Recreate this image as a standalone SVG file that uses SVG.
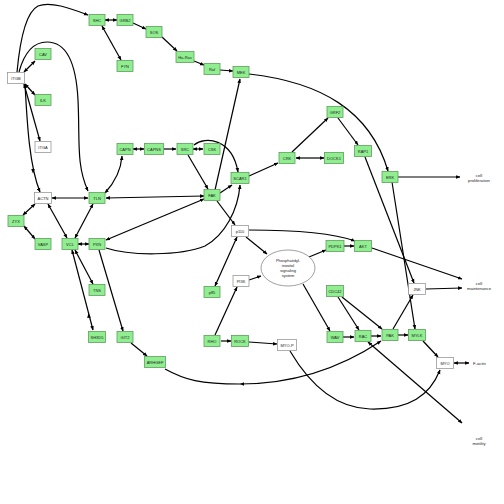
<svg xmlns="http://www.w3.org/2000/svg" width="504" height="504" viewBox="0 0 504 504">
<defs>
<marker id="a" viewBox="0 0 10 10" refX="9" refY="5" markerWidth="4.5" markerHeight="4.5" markerUnits="userSpaceOnUse" orient="auto-start-reverse"><path d="M0,1L10,5L0,9z" fill="#000"/></marker>
</defs>
<style>
.g rect{fill:#90ee90;stroke:#5e9e5e;stroke-width:0.8}
.w rect{fill:#fff;stroke:#999;stroke-width:0.8}
text{font-family:"Liberation Sans",Arial,sans-serif;font-size:4px;fill:#222;text-anchor:middle;dominant-baseline:central}
.e{fill:none;stroke:#000;stroke-width:1.2;marker-end:url(#a)}
.d{marker-start:url(#a)}
.lbl{font-size:4.2px}
</style>
<rect width="504" height="504" fill="#fff"/>
<g id="connectors">
<path class="e" d="M17,72 C20,40 26,12 38,6 C50,1 70,8 88,15"/>
<path class="e" d="M19,72 C25,50 35,42 47,42 C65,42 76,60 78,100 C80,140 76,165 88,191"/>
<path class="e d" d="M24,72 L35,61"/>
<path class="e d" d="M25,84 L35,95"/>
<path class="e d" d="M24,84 L40,141"/>
<path class="e" d="M25,84 C27,120 29,165 40,192"/>
<polygon points="31.2,169 34.8,169 33,173.5" fill="#000"/>
<path class="e d" d="M105,20 L117,20"/>
<path class="e" d="M133,23 L146,29"/>
<path class="e d" d="M102,26 L121,60"/>
<path class="e" d="M162,37 L177,51"/>
<path class="e" d="M194,61 L204,65"/>
<path class="e" d="M220,70 L233,71"/>
<path class="e" d="M249,74 C320,82 370,110 388,171"/>
<path class="e d" d="M133,149 L144,149"/>
<path class="e" d="M164,149 L176,149"/>
<path class="e d" d="M193,149 L203,149"/>
<path class="e" d="M188,155 L208,189"/>
<path class="e" d="M194,145 C205,136 232,138 238,172"/>
<path class="e" d="M215,190 L240,79"/>
<path class="e" d="M220,193 L232,185"/>
<path class="e" d="M249,176 L278,163"/>
<path class="e d" d="M296,158 L324,158"/>
<path class="e" d="M292,152 L328,118"/>
<path class="e" d="M338,118 L358,145"/>
<path class="e" d="M365,157 L414,283"/>
<path class="e" d="M392,182 L415,329"/>
<path class="e" d="M398,177 L460,177"/>
<path class="e" d="M217,201 L235,225"/>
<path class="e" d="M249,230 C290,230 330,232 355,241"/>
<path class="e" d="M246,237 L267,254"/>
<path class="e" d="M309,257 L326,250"/>
<path class="e" d="M344,246 L354,246"/>
<path class="e" d="M372,248 L462,279"/>
<path class="e" d="M426,289 L462,288"/>
<path class="e" d="M303,284 L330,331"/>
<path class="e" d="M343,337 L354,337"/>
<path class="e" d="M371,336 L381,336"/>
<path class="e" d="M398,335 L408,335"/>
<path class="e" d="M338,297 L359,330"/>
<path class="e" d="M342,297 L382,329"/>
<path class="e" d="M393,329 L413,295"/>
<path class="e" d="M423,341 L438,357"/>
<path class="e d" d="M454,363 L469,363"/>
<path class="e" d="M165,369 C185,380 200,384 240,384 C300,384 345,365 381,341"/>
<polygon points="240,384 244,382.2 244,385.8" fill="#000"/>
<path class="e" d="M221,341 L231,341"/>
<path class="e" d="M249,342 L277,344"/>
<path class="e" d="M215,335 L237,287"/>
<path class="e" d="M249,280 L261,276"/>
<path class="e d" d="M215,286 L237,237"/>
<path class="e" d="M290,351 C310,385 335,408 370,409 C410,410 430,395 440,370"/>
<path class="e d" d="M368,342 L462,423"/>
<path class="e" d="M106,248 C130,256 180,256 205,246 C225,235 238,210 240,185"/>
<path class="e d" d="M204,196 L106,198"/>
<path class="e d" d="M204,199 L106,240"/>
<path class="e d" d="M52,198 L88,198"/>
<path class="e d" d="M35,204 L23,215"/>
<path class="e d" d="M24,226 L35,239"/>
<path class="e d" d="M48,204 L67,238"/>
<path class="e d" d="M93,204 L75,238"/>
<path class="e d" d="M78,244 L89,244"/>
<path class="e d" d="M75,250 L93,284"/>
<path class="e d" d="M72,250 L93,330"/>
<polygon points="88.5,313 90.8,317.5 87.2,318" fill="#000"/>
<path class="e" d="M99,250 L123,331"/>
<path class="e" d="M131,343 L147,356"/>
<path class="e d" d="M105,193 C115,182 121,170 122,156"/>
</g>
<g id="ITGB" class="w"><rect x="7.5" y="72.5" width="17" height="11"/><text x="16" y="78">ITGB</text></g>
<g id="CAV" class="g"><rect x="35" y="48.5" width="16" height="11"/><text x="43" y="54">CAV</text></g>
<g id="ILK" class="g"><rect x="35" y="94.5" width="16" height="11"/><text x="43" y="100">ILK</text></g>
<g id="ITGA" class="w"><rect x="35" y="141.5" width="16" height="11"/><text x="43" y="147">ITGA</text></g>
<g id="SHC" class="g"><rect x="89" y="14.5" width="16" height="11"/><text x="97" y="20">SHC</text></g>
<g id="GRB2" class="g"><rect x="117" y="14.5" width="16" height="11"/><text x="125" y="20">GRB2</text></g>
<g id="SOS" class="g"><rect x="146" y="26.5" width="16" height="11"/><text x="154" y="32">SOS</text></g>
<g id="FYN" class="g"><rect x="117" y="60.5" width="16" height="11"/><text x="125" y="66">FYN</text></g>
<g id="Ha-Ras" class="g"><rect x="176" y="51.5" width="18" height="11"/><text x="185" y="57">Ha-Ras</text></g>
<g id="Raf" class="g"><rect x="204" y="63.5" width="16" height="11"/><text x="212" y="69">Raf</text></g>
<g id="MEK" class="g"><rect x="233" y="66.5" width="16" height="11"/><text x="241" y="72">MEK</text></g>
<g id="CAPN" class="g"><rect x="117" y="143.5" width="16" height="11"/><text x="125" y="149">CAPN</text></g>
<g id="CAPNS" class="g"><rect x="144.5" y="143.5" width="19" height="11"/><text x="154" y="149">CAPNS</text></g>
<g id="SRC" class="g"><rect x="177" y="143.5" width="16" height="11"/><text x="185" y="149">SRC</text></g>
<g id="CSK" class="g"><rect x="204" y="143.5" width="16" height="11"/><text x="212" y="149">CSK</text></g>
<g id="SCAR1" class="g"><rect x="231" y="172.5" width="18" height="11"/><text x="240" y="178">SCAR1</text></g>
<g id="CRK" class="g"><rect x="279" y="152.5" width="16" height="11"/><text x="287" y="158">CRK</text></g>
<g id="DOCK1" class="g"><rect x="324.5" y="152.5" width="19" height="11"/><text x="334" y="158">DOCK1</text></g>
<g id="GRF2" class="g"><rect x="327" y="106.5" width="16" height="11"/><text x="335" y="112">GRF2</text></g>
<g id="RAP1" class="g"><rect x="354.5" y="145.5" width="17" height="11"/><text x="363" y="151">RAP1</text></g>
<g id="ERK" class="g"><rect x="382" y="171.5" width="16" height="11"/><text x="390" y="177">ERK</text></g>
<g id="FAK" class="g"><rect x="204" y="189.5" width="16" height="11"/><text x="212" y="195">FAK</text></g>
<g id="ACTN" class="w"><rect x="34.5" y="192.5" width="17" height="11"/><text x="43" y="198">ACTN</text></g>
<g id="TLN" class="g"><rect x="89" y="192.5" width="16" height="11"/><text x="97" y="198">TLN</text></g>
<g id="ZYX" class="g"><rect x="8" y="215.5" width="16" height="11"/><text x="16" y="221">ZYX</text></g>
<g id="VASP" class="g"><rect x="35" y="238.5" width="16" height="11"/><text x="43" y="244">VASP</text></g>
<g id="VCL" class="g"><rect x="62" y="238.5" width="16" height="11"/><text x="70" y="244">VCL</text></g>
<g id="PXN" class="g"><rect x="89" y="238.5" width="16" height="11"/><text x="97" y="244">PXN</text></g>
<g id="TNS" class="g"><rect x="89" y="284.5" width="16" height="11"/><text x="97" y="290">TNS</text></g>
<g id="SH3D5" class="g"><rect x="88.5" y="331.5" width="17" height="11"/><text x="97" y="337">SH3D5</text></g>
<g id="GIT2" class="g"><rect x="117" y="331.5" width="16" height="11"/><text x="125" y="337">GIT2</text></g>
<g id="ARHGEF" class="g"><rect x="144.5" y="356.5" width="21" height="11"/><text x="155" y="362">ARHGEF</text></g>
<g id="p110" class="w"><rect x="231.5" y="225.5" width="17" height="11"/><text x="240" y="231">p110</text></g>
<g id="PI3K" class="w"><rect x="233" y="275.5" width="16" height="11"/><text x="241" y="281">PI3K</text></g>
<g id="p85" class="g"><rect x="204" y="286.5" width="16" height="11"/><text x="212" y="292">p85</text></g>
<g id="PIS"><ellipse cx="288" cy="268" rx="27" ry="18" fill="#fff" stroke="#777" stroke-width="0.7"/><text x="288" y="260.5">Phosphatidyl-</text><text x="288" y="265.5">inositol</text><text x="288" y="270.5">signaling</text><text x="288" y="275.5">system</text></g>
<g id="PDPK1" class="g"><rect x="326" y="240.5" width="18" height="11"/><text x="335" y="246">PDPK1</text></g>
<g id="AKT" class="g"><rect x="354.5" y="240.5" width="17" height="11"/><text x="363" y="246">AKT</text></g>
<g id="JNK" class="w"><rect x="408.5" y="283.5" width="17" height="11"/><text x="417" y="289">JNK</text></g>
<g id="CDC42" class="g"><rect x="326.5" y="285.5" width="17" height="11"/><text x="335" y="291">CDC42</text></g>
<g id="WAV" class="g"><rect x="327" y="331.5" width="16" height="11"/><text x="335" y="337">WAV</text></g>
<g id="RAC" class="g"><rect x="355" y="330.5" width="16" height="11"/><text x="363" y="336">RAC</text></g>
<g id="PAK" class="g"><rect x="382" y="329.5" width="16" height="11"/><text x="390" y="335">PAK</text></g>
<g id="MYLK" class="g"><rect x="408.5" y="329.5" width="17" height="11"/><text x="417" y="335">MYLK</text></g>
<g id="RHO" class="g"><rect x="204" y="335.5" width="16" height="11"/><text x="212" y="341">RHO</text></g>
<g id="ROCK" class="g"><rect x="231.5" y="335.5" width="17" height="11"/><text x="240" y="341">ROCK</text></g>
<g id="MYO-P" class="w"><rect x="277.5" y="339.5" width="19" height="11"/><text x="287" y="345">MYO-P</text></g>
<g id="MYO" class="w"><rect x="436.5" y="357.5" width="17" height="11"/><text x="445" y="363">MYO</text></g>
<g id="cell-proliferation"><text class="lbl" x="479" y="175.5">cell</text><text class="lbl" x="479" y="180.5">proliferation</text></g>
<g id="cell-maintenance"><text class="lbl" x="479" y="283">cell</text><text class="lbl" x="479" y="288.5">maintenance</text></g>
<g id="F-actin"><text class="lbl" x="473" y="363" style="text-anchor:start">F-actin</text></g>
<g id="cell-motility"><text class="lbl" x="479" y="438">cell</text><text class="lbl" x="479" y="443.5">motility</text></g>
</svg>
